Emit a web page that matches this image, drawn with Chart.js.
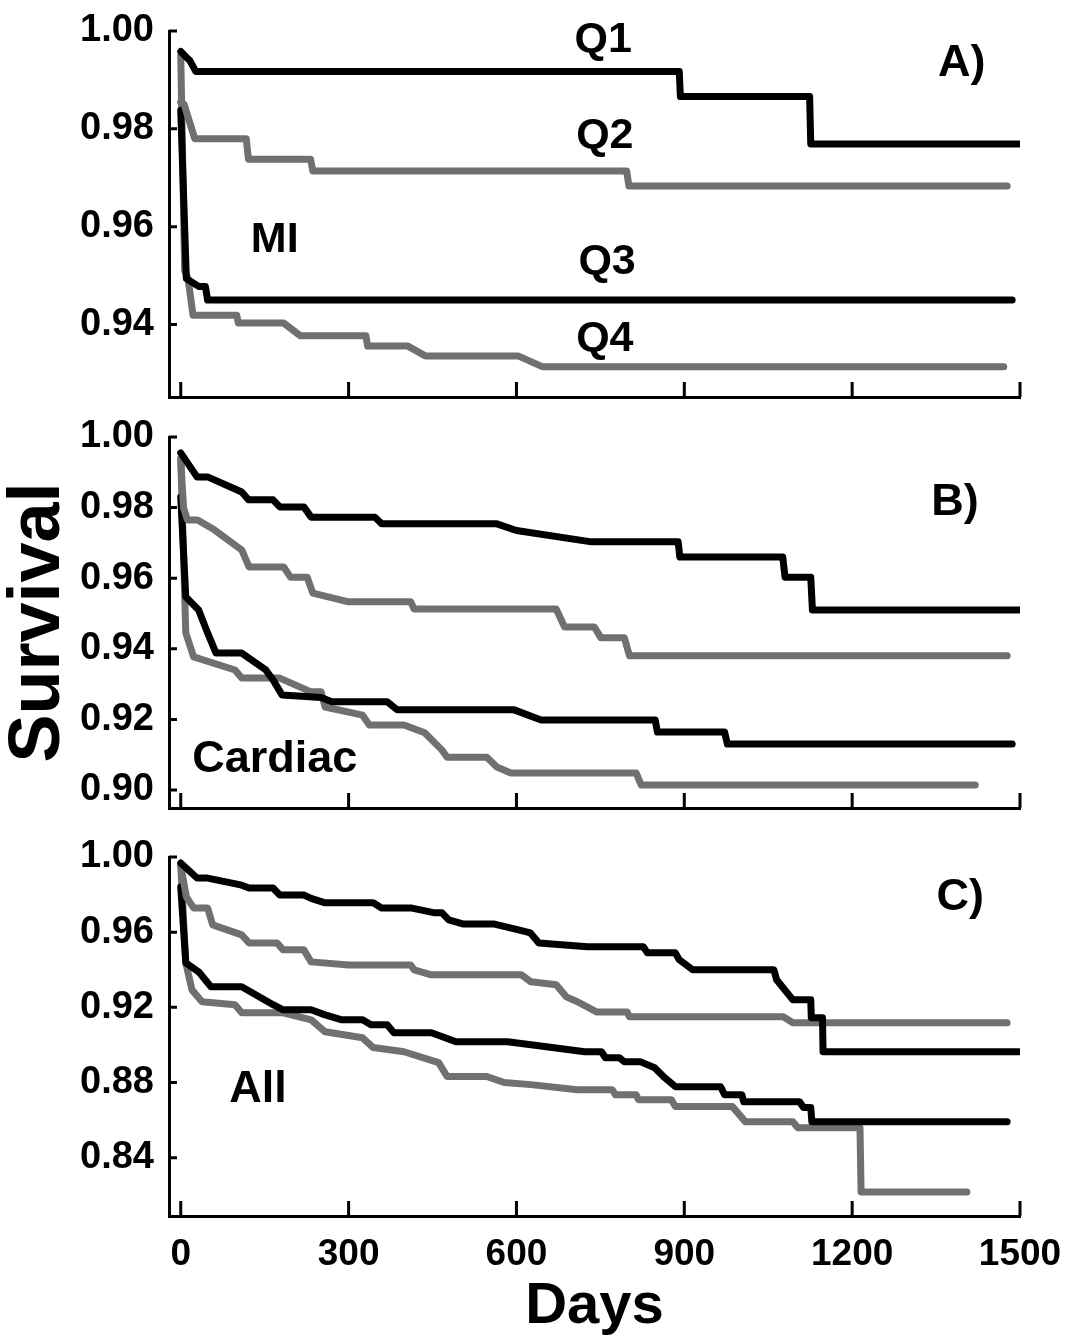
<!DOCTYPE html>
<html>
<head>
<meta charset="utf-8">
<script src="https://cdn.jsdelivr.net/npm/chart.js@4.4.0/dist/chart.umd.min.js"></script>
<style>
body { margin: 0; background: #fff; width: 1071px; height: 1342px; position: relative; overflow: hidden; }
.panel { position: absolute; left: 0; width: 1071px; }
</style>
</head>
<body>
<div class="panel" style="top:0;height:440px"><canvas id="chartA"></canvas></div>
<div class="panel" style="top:390px;height:460px"><canvas id="chartB"></canvas></div>
<div class="panel" style="top:800px;height:542px"><canvas id="chartC"></canvas></div>
<script>
// axis ticks
const dayTicks = [0, 300, 600, 900, 1200, 1500];
const miTicks = [0.94, 0.96, 0.98, 1.00];
const cardTicks = [0.90, 0.92, 0.94, 0.96, 0.98, 1.00];
const allTicks = [0.84, 0.88, 0.92, 0.96, 1.00];

// A) MI
const miQ1Day = [0, 12, 16, 27, 891, 893, 1124, 1126, 1498];
const miQ1Surv = [0.9958, 0.9944, 0.9940, 0.9917, 0.9917, 0.9866, 0.9866, 0.9769, 0.9769];
const miQ2Day = [0, 6, 25, 117, 121, 232, 236, 797, 801, 1477];
const miQ2Surv = [0.9855, 0.9850, 0.9780, 0.9780, 0.9738, 0.9738, 0.9714, 0.9714, 0.9683, 0.9683];
const miQ3Day = [0, 10, 32, 44, 48, 1486];
const miQ3Surv = [0.9838, 0.9494, 0.9478, 0.9478, 0.9450, 0.9450];
const miQ4Day = [0, 7, 13, 22, 100, 103, 184, 214, 331, 334, 406, 437, 603, 646, 1471];
const miQ4Surv = [0.9950, 0.9510, 0.9494, 0.9419, 0.9419, 0.9403, 0.9403, 0.9377, 0.9377, 0.9356, 0.9356, 0.9336, 0.9336, 0.9314, 0.9314];

// B) Cardiac
const cdQ1Day = [0, 29, 48, 109, 121, 165, 177, 220, 233, 347, 359, 565, 600, 734, 889, 892, 1076, 1080, 1126, 1129, 1498];
const cdQ1Surv = [0.9955, 0.9887, 0.9887, 0.9844, 0.9822, 0.9822, 0.9802, 0.9802, 0.9773, 0.9773, 0.9754, 0.9754, 0.9735, 0.9703, 0.9703, 0.9660, 0.9660, 0.9603, 0.9603, 0.9510, 0.9510];
const cdQ2Day = [0, 5, 12, 30, 60, 109, 122, 184, 196, 226, 236, 300, 411, 417, 671, 686, 739, 751, 793, 802, 1477];
const cdQ2Surv = [0.9935, 0.9800, 0.9765, 0.9765, 0.9737, 0.9680, 0.9632, 0.9632, 0.9603, 0.9603, 0.9558, 0.9533, 0.9533, 0.9513, 0.9513, 0.9462, 0.9462, 0.9431, 0.9431, 0.9380, 0.9380];
const cdQ3Day = [0, 9, 32, 48, 63, 109, 152, 165, 181, 251, 270, 369, 387, 596, 644, 848, 852, 972, 977, 1486];
const cdQ3Surv = [0.9830, 0.9547, 0.9510, 0.9445, 0.9388, 0.9388, 0.9340, 0.9312, 0.9269, 0.9262, 0.9250, 0.9250, 0.9227, 0.9227, 0.9198, 0.9198, 0.9164, 0.9164, 0.9130, 0.9130];
const cdQ4Day = [0, 9, 23, 97, 109, 177, 233, 251, 258, 325, 337, 399, 436, 467, 476, 547, 565, 590, 814, 823, 1420];
const cdQ4Surv = [0.9940, 0.9445, 0.9377, 0.9340, 0.9317, 0.9317, 0.9278, 0.9278, 0.9235, 0.9212, 0.9184, 0.9184, 0.9162, 0.9113, 0.9093, 0.9093, 0.9065, 0.9048, 0.9048, 0.9014, 0.9014];

// C) All
const alQ1Day = [0, 29, 48, 109, 122, 165, 177, 220, 233, 258, 344, 359, 411, 454, 467, 479, 504, 559, 600, 625, 640, 727, 827, 834, 884, 891, 915, 1060, 1065, 1094, 1126, 1127, 1147, 1148, 1498];
const alQ1Surv = [0.9968, 0.9888, 0.9888, 0.9850, 0.9835, 0.9835, 0.9798, 0.9798, 0.9780, 0.9756, 0.9756, 0.9729, 0.9729, 0.9703, 0.9703, 0.9665, 0.9644, 0.9644, 0.9615, 0.9596, 0.9543, 0.9522, 0.9522, 0.9490, 0.9490, 0.9453, 0.9400, 0.9400, 0.9347, 0.9240, 0.9240, 0.9145, 0.9145, 0.8964, 0.8964];
const alQ2Day = [0, 10, 23, 48, 57, 109, 122, 172, 183, 220, 233, 300, 411, 417, 448, 609, 626, 671, 689, 709, 743, 798, 802, 1077, 1094, 1477];
const alQ2Surv = [0.9955, 0.9788, 0.9729, 0.9729, 0.9639, 0.9586, 0.9543, 0.9543, 0.9506, 0.9506, 0.9442, 0.9426, 0.9426, 0.9400, 0.9373, 0.9373, 0.9336, 0.9320, 0.9256, 0.9230, 0.9176, 0.9176, 0.9150, 0.9150, 0.9118, 0.9118];
const alQ3Day = [0, 9, 32, 54, 109, 165, 183, 233, 258, 288, 325, 340, 369, 381, 448, 492, 584, 626, 722, 752, 759, 784, 793, 822, 847, 865, 884, 965, 972, 1003, 1006, 1106, 1113, 1126, 1128, 1477];
const alQ3Surv = [0.9840, 0.9437, 0.9389, 0.9310, 0.9310, 0.9214, 0.9187, 0.9187, 0.9160, 0.9134, 0.9134, 0.9107, 0.9107, 0.9065, 0.9065, 0.9017, 0.9017, 0.9001, 0.8964, 0.8964, 0.8932, 0.8932, 0.8910, 0.8910, 0.8879, 0.8826, 0.8778, 0.8778, 0.8735, 0.8735, 0.8698, 0.8698, 0.8667, 0.8667, 0.8592, 0.8592];
const alQ4Day = [0, 9, 20, 38, 97, 109, 183, 233, 258, 325, 344, 399, 461, 476, 547, 578, 626, 709, 771, 777, 814, 818, 877, 884, 986, 1009, 1094, 1103, 1214, 1216, 1405];
const alQ4Surv = [0.9960, 0.9437, 0.9293, 0.9230, 0.9214, 0.9171, 0.9171, 0.9134, 0.9070, 0.9038, 0.8986, 0.8964, 0.8906, 0.8832, 0.8832, 0.8800, 0.8789, 0.8762, 0.8762, 0.8735, 0.8735, 0.8709, 0.8709, 0.8672, 0.8672, 0.8592, 0.8592, 0.8560, 0.8560, 0.8218, 0.8218];

const FONT = '"Liberation Sans", Arial, sans-serif';
const BLACK = '#000000';
const GREY = '#707070';

Chart.defaults.font.family = FONT;
Chart.defaults.font.weight = 'bold';
Chart.defaults.color = '#000';

function pts(days, surv) {
  return days.map((d, i) => ({ x: d, y: surv[i] }));
}

function line(days, surv, color) {
  return {
    data: pts(days, surv),
    borderColor: color,
    borderWidth: 7,
    borderCapStyle: 'round',
    borderJoinStyle: 'round',
    pointRadius: 0,
    tension: 0,
    fill: false
  };
}

// tick marks pointing into the plot
const innerTicks = {
  id: 'innerTicks',
  afterDatasetsDraw(chart) {
    const { ctx, chartArea: a, scales: { x, y } } = chart;
    ctx.save();
    ctx.strokeStyle = '#000';
    ctx.lineWidth = 3;
    ctx.beginPath();
    x.ticks.forEach(t => {
      const px = x.getPixelForValue(t.value);
      ctx.moveTo(px, a.bottom);
      ctx.lineTo(px, a.bottom - 15);
    });
    y.ticks.forEach(t => {
      const py = y.getPixelForValue(t.value);
      ctx.moveTo(a.left, py);
      ctx.lineTo(a.left + 8, py);
    });
    ctx.stroke();
    ctx.restore();
  }
};

// text labels placed in data coordinates
const panelText = {
  id: 'panelText',
  afterDraw(chart, args, opts) {
    const { ctx, scales: { x, y } } = chart;
    ctx.save();
    ctx.fillStyle = '#000';
    ctx.textAlign = 'center';
    ctx.textBaseline = 'middle';
    (opts.items || []).forEach(it => {
      ctx.font = 'bold ' + it.size + 'px ' + FONT;
      ctx.fillText(it.text, x.getPixelForValue(it.day), y.getPixelForValue(it.surv));
    });
    ctx.restore();
  }
};

function makePanel(id, cfg) {
  return new Chart(document.getElementById(id), {
    type: 'line',
    data: { datasets: cfg.datasets },
    plugins: [innerTicks, panelText],
    options: {
      responsive: true,
      maintainAspectRatio: false,
      animation: false,
      layout: { padding: { left: 0, right: 51, top: cfg.top, bottom: 0 } },
      plugins: {
        legend: { display: false },
        tooltip: { enabled: false },
        panelText: { items: cfg.labels }
      },
      scales: {
        x: {
          type: 'linear',
          min: -21,
          max: 1500,
          afterBuildTicks: s => { s.ticks = dayTicks.map(v => ({ value: v })); },
          afterFit: s => { s.height = cfg.xHeight; },
          grid: { display: false },
          border: { display: true, color: '#000', width: 3 },
          ticks: {
            display: cfg.xLabels,
            font: { size: 37, weight: 'bold' },
            color: '#000',
            padding: 9,
            maxRotation: 0,
            autoSkip: false,
            callback: v => String(v)
          },
          title: {
            display: cfg.xLabels,
            text: 'Days',
            color: '#000',
            font: { size: 58, weight: 'bold', lineHeight: 1 },
            padding: { top: 0, bottom: 6 }
          }
        },
        y: {
          type: 'linear',
          min: cfg.yMin,
          max: 1.0,
          afterBuildTicks: s => { s.ticks = cfg.yTicks.map(v => ({ value: v })); },
          afterFit: s => { s.width = 169; },
          grid: { display: false },
          border: { display: true, color: '#000', width: 3 },
          ticks: {
            font: { size: 38, weight: 'bold' },
            color: '#000',
            padding: 7,
            callback: v => v.toFixed(2)
          },
          title: {
            display: cfg.yTitle,
            text: 'Survival',
            color: '#000',
            font: { size: 72, weight: 'bold', lineHeight: 1 },
            padding: { top: 3, bottom: 0 }
          }
        }
      }
    }
  });
}

makePanel('chartA', {
  top: 31, xHeight: 43, xLabels: false, yTitle: false,
  yMin: 0.9252, yTicks: miTicks,
  datasets: [
    line(miQ1Day, miQ1Surv, BLACK),
    line(miQ2Day, miQ2Surv, GREY),
    line(miQ3Day, miQ3Surv, BLACK),
    line(miQ4Day, miQ4Surv, GREY)
  ],
  labels: [
    { text: 'Q1', day: 755, surv: 0.9982, size: 43 },
    { text: 'Q2', day: 758, surv: 0.9785, size: 43 },
    { text: 'Q3', day: 762, surv: 0.9527, size: 43 },
    { text: 'Q4', day: 758, surv: 0.9371, size: 43 },
    { text: 'A)', day: 1396, surv: 0.9933, size: 45 },
    { text: 'MI', day: 168, surv: 0.9572, size: 43 }
  ]
});

makePanel('chartB', {
  top: 47, xHeight: 42, xLabels: false, yTitle: true,
  yMin: 0.8949, yTicks: cardTicks,
  datasets: [
    line(cdQ1Day, cdQ1Surv, BLACK),
    line(cdQ2Day, cdQ2Surv, GREY),
    line(cdQ3Day, cdQ3Surv, BLACK),
    line(cdQ4Day, cdQ4Surv, GREY)
  ],
  labels: [
    { text: 'B)', day: 1384, surv: 0.9813, size: 45 },
    { text: 'Cardiac', day: 168, surv: 0.9085, size: 45 }
  ]
});

makePanel('chartC', {
  top: 57, xHeight: 126, xLabels: true, yTitle: false,
  yMin: 0.809, yTicks: allTicks,
  datasets: [
    line(alQ1Day, alQ1Surv, BLACK),
    line(alQ2Day, alQ2Surv, GREY),
    line(alQ3Day, alQ3Surv, BLACK),
    line(alQ4Day, alQ4Surv, GREY)
  ],
  labels: [
    { text: 'C)', day: 1393, surv: 0.9782, size: 45 },
    { text: 'All', day: 138, surv: 0.8762, size: 45 }
  ]
});
</script>
</body>
</html>
